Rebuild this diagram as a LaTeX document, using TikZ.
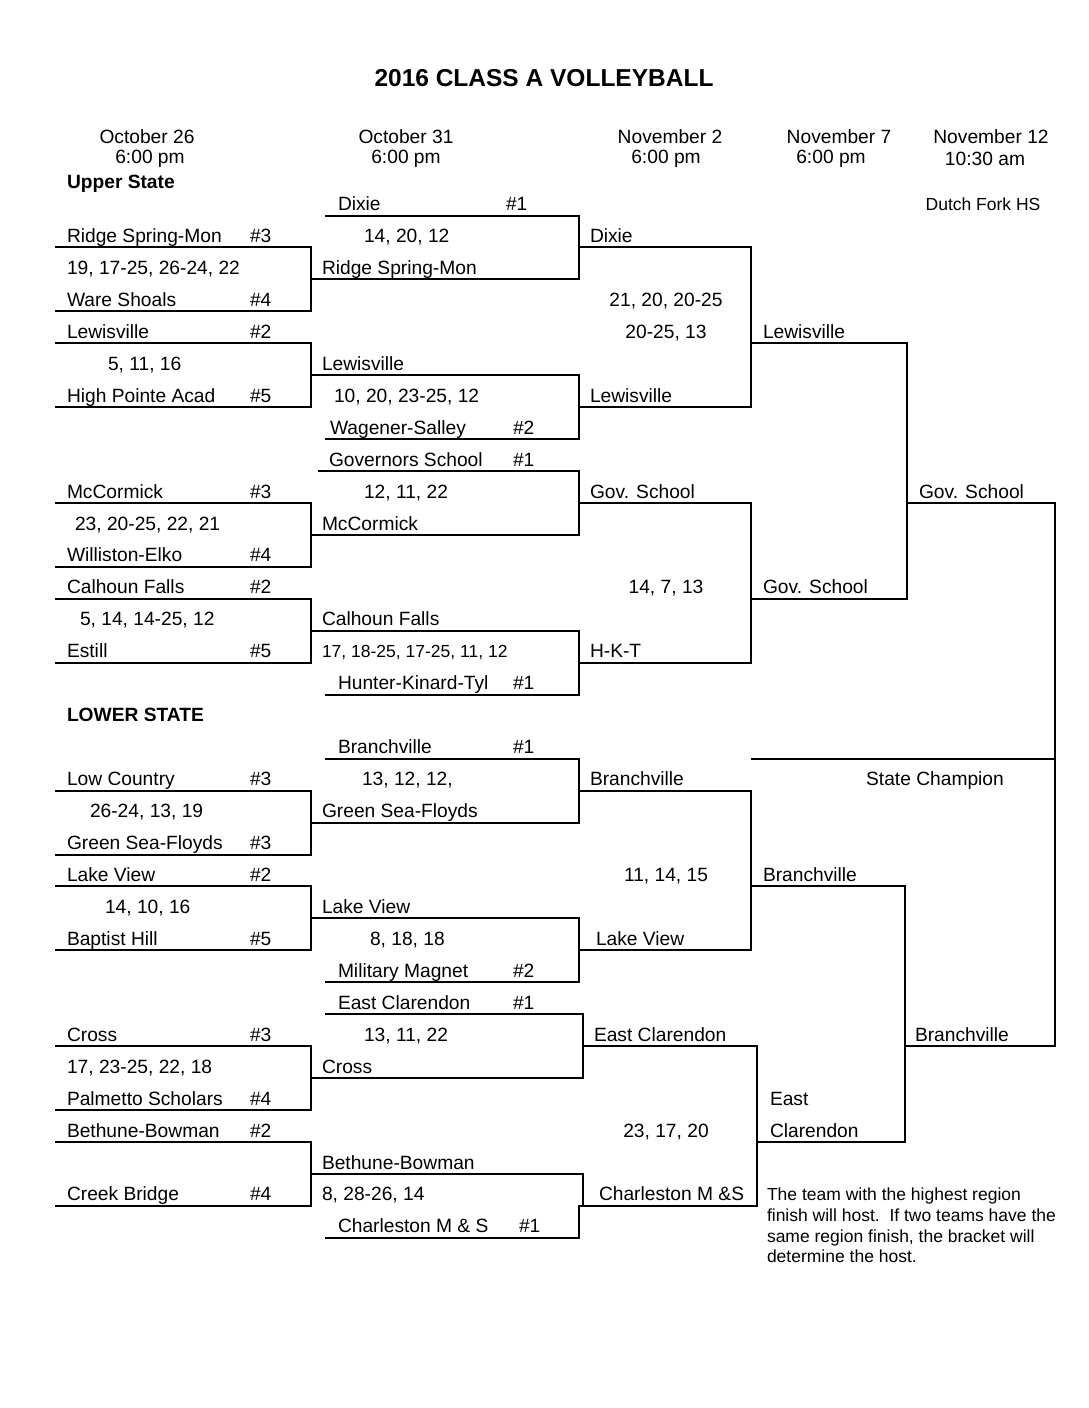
\documentclass[tikz,border=0pt]{standalone}
\usepackage{fontspec}
\setmainfont{Liberation Sans}
\usetikzlibrary{positioning}

\begin{document}
\begin{tikzpicture}
[x=1pt,y=-1pt,line width=2pt,node distance=22pt,on grid,
  every node/.style={inner sep=0pt,font=\fontsize{19.2}{22}\selectfont},
  team/.style={anchor=base west,yshift=5pt},
  score/.style={anchor=base,yshift=5pt},
  small/.style={font=\fontsize{17.5}{20.7}\selectfont},
  head/.style={font=\bfseries\fontsize{19.2}{22}\selectfont}]
\useasboundingbox (0,0) rectangle (1088,1408);
%% title and dates
\node[font=\bfseries\fontsize{24.5}{28}\selectfont] (title) at (544,78) {2016 CLASS A VOLLEYBALL};
\node (d1) at (147,137) {October 26};
\node (t1) [below=of d1,xshift=3pt] {6:00 pm};
\node (d2) at (406,137) {October 31};
\node (t2) [below=of d2] {6:00 pm};
\node (d3) at (670,137) {November 2};
\node (t3) [below=of d3,xshift=-4pt] {6:00 pm};
\node (d4) at (839,137) {November 7};
\node (t4) [below=of d4,xshift=-8pt] {6:00 pm};
\node (d5) at (991,137) {November 12};
\node (t5) [below=of d5,xshift=-6pt] {10:30 am};
\node[head,anchor=base west] (upper) at (66,188) {Upper State};
\begin{scope}[shift={(0,215.5)},y=-31.95pt]
%% first round brackets
\foreach \a/\b in {1/3,4/6,9/11,12/14,18/20,21/23,26/28,29/31}
  \draw (55,\a) -| (311,\b) -- (55,\b);
%% second round brackets
\draw (325,0) -| (579,2) -- (311,2);
\draw (311,5) -| (579,7) -- (325,7);
\draw (318,8) -| (579,10) -- (311,10);
\draw (311,13) -| (579,15) -- (325,15);
\draw (325,17) -| (579,19) -- (311,19);
\draw (311,22) -| (579,24) -- (325,24);
\draw (325,25) -| (583,27) -- (311,27);
\draw (311,30) -| (583,31);
%% third round brackets
\draw (579,1) -| (751,6) -- (579,6);
\draw (579,9) -| (751,14) -- (579,14);
\draw (579,18) -| (751,23) -- (579,23);
\draw (583,26) -| (757,31) -- (579,31) |- (325,32);
%% semifinals and final
\draw (751,4) -| (907,12) -- (751,12);
\draw (751,21) -| (905,29) -- (757,29);
\draw (907,9) -| (1055,26) -- (905,26);
\draw (751,17) -- (1055,17);
%% first round teams
\foreach \n/\r/\t in {rsm/1/Ridge Spring-Mon,ws/3/Ware Shoals,lw/4/Lewisville,
  hpa/6/High Pointe Acad,mcc/9/McCormick,we/11/Williston-Elko,cf/12/Calhoun Falls,
  est/14/Estill,lc/18/Low Country,gsf/20/Green Sea-Floyds,lv/21/Lake View,
  bh/23/Baptist Hill,cr/26/Cross,ps/28/Palmetto Scholars,bb/29/Bethune-Bowman,
  cb/31/Creek Bridge}
  \node[team] (\n) at (66,\r) {\t};
\foreach \r/\s in {1/3,3/4,4/2,6/5,9/3,11/4,12/2,14/5,18/3,20/3,21/2,23/5,26/3,28/4,29/2,31/4}
  \node[team] (s\r) at (249,\r) {\#\s};
\foreach \r/\x/\t in {2/66/{19, 17-25, 26-24, 22},5/107/{5, 11, 16},
  10/74/{23, 20-25, 22, 21},13/79/{5, 14, 14-25, 12},19/89/{26-24, 13, 19},
  22/104/{14, 10, 16},27/66/{17, 23-25, 22, 18}}
  \node[team] (p\r) at (\x,\r) {\t};
%% second round teams
\foreach \n/\x/\r/\t in {dx/337/0/Dixie,rsm2/321/2/Ridge Spring-Mon,
  lw2/321/5/Lewisville,wag/329/7/Wagener-Salley,gs/328/8/Governors School,
  mcc2/321/10/McCormick,cf2/321/13/Calhoun Falls,hkt/337/15/Hunter-Kinard-Tyl,
  br/337/17/Branchville,gsf2/321/19/Green Sea-Floyds,lv2/321/22/Lake View,
  mm/337/24/Military Magnet,ec/337/25/East Clarendon,cr2/321/27/Cross,
  bb2/321/30/Bethune-Bowman,cms/337/32/Charleston M \& S}
  \node[team] (\n) at (\x,\r) {\t};
\foreach \r/\x/\s in {0/505/1,7/512/2,8/512/1,15/512/1,17/512/1,24/512/2,25/512/1,32/518/1}
  \node[team] (u\r) at (\x,\r) {\#\s};
\foreach \r/\x/\t in {1/363/{14, 20, 12},6/333/{10, 20, 23-25, 12},9/363/{12, 11, 22},
  18/361/{13, 12, 12,},23/369/{8, 18, 18},26/363/{13, 11, 22},31/321/{8, 28-26, 14}}
  \node[team] (q\r) at (\x,\r) {\t};
\node[team,small] (q14) at (321,14) {17, 18-25, 17-25, 11, 12};
%% third round teams
\foreach \n/\x/\r/\t in {dx3/589/1/Dixie,lw3/589/6/Lewisville,gs3/589/9/Gov. School,
  hkt3/589/14/H-K-T,br3/589/18/Branchville,lv3/595/23/Lake View,
  ec3/593/26/East Clarendon,cms3/598/31/Charleston M \&S}
  \node[team] (\n) at (\x,\r) {\t};
\foreach \r/\t in {3/{21, 20, 20-25},4/{20-25, 13},12/{14, 7, 13},21/{11, 14, 15},29/{23, 17, 20}}
  \node[score] (v\r) at (666,\r) {\t};
%% semifinal and final teams
\foreach \n/\x/\r/\t in {lw4/762/4/Lewisville,gs4/762/12/Gov. School,
  br4/762/21/Branchville,ec4/769/28/East,ec4b/769/29/Clarendon,
  gs5/918/9/Gov. School,br5/914/26/Branchville}
  \node[team] (\n) at (\x,\r) {\t};
\node[score] (champ) at (935,18) {State Champion};
\node[score,small] (site) at (983,0) {Dutch Fork HS};
\node[head,anchor=base west,yshift=5pt] (lower) at (66,16) {LOWER STATE};
\end{scope}
%% note on hosting
\node[small,anchor=north west,align=left] (note) at (766,1187)
  {The team with the highest region\\finish will host.\ \ If two teams have the\\same region finish, the bracket will\\determine the host.};
\end{tikzpicture}
\end{document}
